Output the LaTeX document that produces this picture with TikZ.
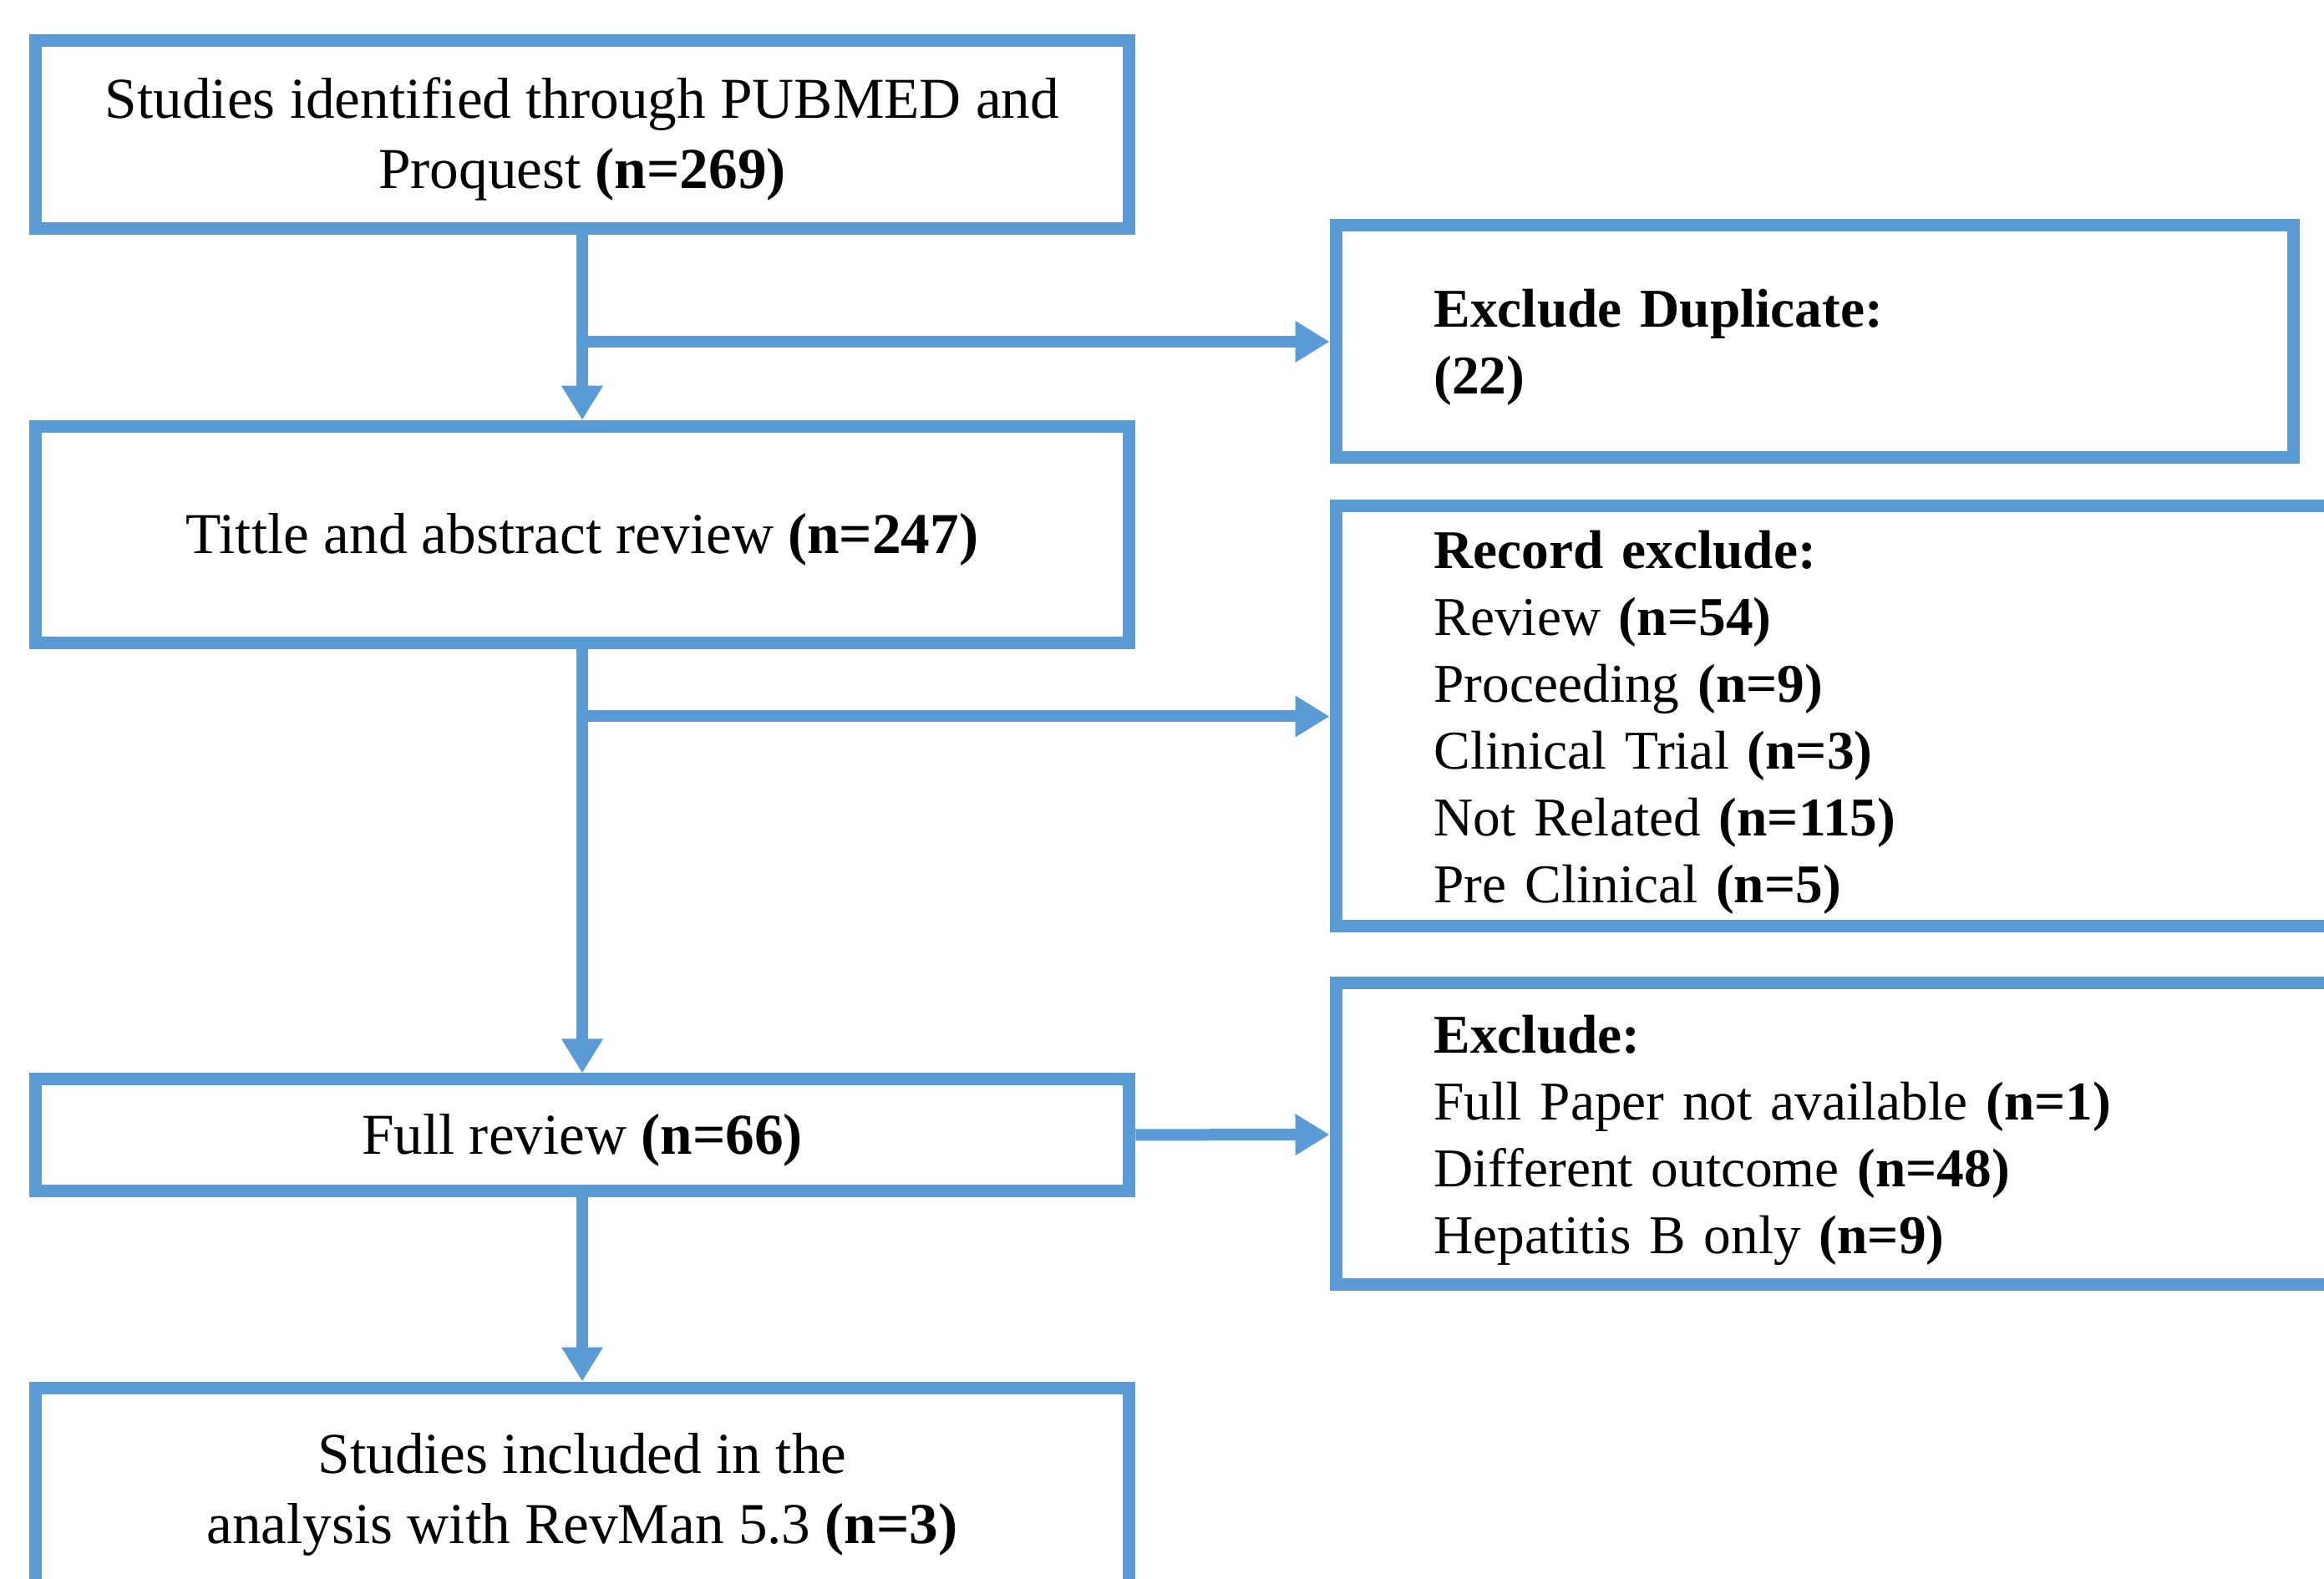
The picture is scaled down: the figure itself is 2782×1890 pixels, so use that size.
\documentclass[tikz,border=0pt]{standalone}
\usepackage{fontspec}
\setmainfont{Liberation Serif}
\usepackage{tikz}
\usetikzlibrary{arrows.meta}

\definecolor{flowblue}{RGB}{91,155,213}
\newcommand{\headroom}{\rule{0pt}{17pt}}

\begin{document}
\begin{tikzpicture}[x=0.1mm, y=-0.1mm,
    box/.style={draw=flowblue, line width=1.5mm, align=center, inner sep=1mm,
      font=\fontsize{19.7}{23.7}\selectfont},
    side/.style={box, align=left, inner xsep=11.75mm,
      font=\fontsize{18.6}{22.8}\selectfont},
    flow/.style={draw=flowblue, line width=1.4mm,
      -{Triangle[length=4.1mm, width=4.7mm]}}]
\useasboundingbox (0,0) rectangle (2782,1890);
\clip (0,0) rectangle (2782,1890);

\node[box, minimum width=130.95mm, minimum height=22.43mm] (ident) at (697,161)
  {\headroom Studies identified through PUBMED and\\Proquest \textbf{(n=269)}};
\node[box, minimum width=130.95mm, minimum height=25.95mm] (title) at (697,640)
  {\headroom Tittle and abstract review \textbf{(n=247)}};
\node[box, minimum width=130.95mm, minimum height=13.4mm] (full) at (697,1359)
  {\headroom Full review \textbf{(n=66)}};
\node[box, minimum width=130.95mm, minimum height=24.4mm] (incl) at (697,1783)
  {\headroom Studies included in the\\analysis with RevMan 5.3 \textbf{(n=3)}};

\node[side, text width=91.1mm, minimum height=27.8mm] (dupl) at (2172,409)
  {\headroom\textbf{Exclude Duplicate:}\\\textbf{(22)}};
\node[side, text width=96.6mm, minimum height=50.3mm] (rec) at (2199.5,857.5)
  {\headroom\textbf{Record exclude:}\\
   Review \textbf{(n=54)}\\
   Proceeding \textbf{(n=9)}\\
   Clinical Trial \textbf{(n=3)}\\
   Not Related \textbf{(n=115)}\\
   Pre Clinical \textbf{(n=5)}};
\node[side, text width=96.6mm, minimum height=36.1mm] (excl) at (2199.5,1357.5)
  {\headroom\textbf{Exclude:}\\
   Full Paper not available \textbf{(n=1)}\\
   Different outcome \textbf{(n=48)}\\
   Hepatitis B only \textbf{(n=9)}};

\foreach \u/\v in {ident/title,title/full,full/incl} \draw[flow] (\u) -- (\v);
\draw[flow] (ident |- dupl) -- (dupl);
\draw[flow] (title |- rec) -- (rec);
\draw[flow] (full) -- (excl);

\end{tikzpicture}
\end{document}
